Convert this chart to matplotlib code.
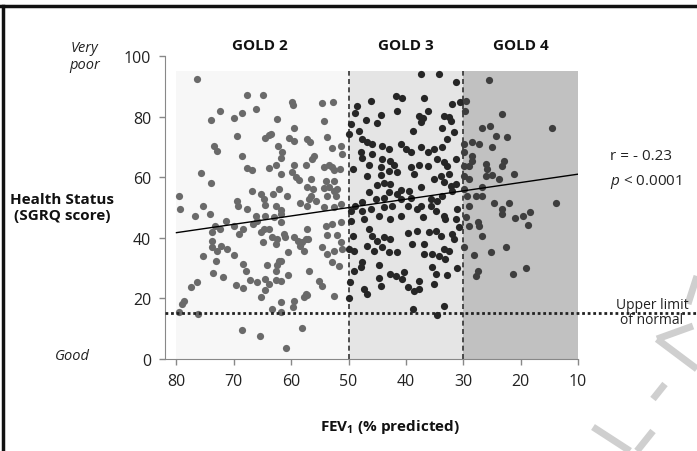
import matplotlib
matplotlib.use('Agg')
import matplotlib.pyplot as plt
from matplotlib.lines import Line2D
from matplotlib.transforms import blended_transform_factory

plt.rcParams['font.family'] = ['Open Sans', 'DejaVu Sans']
plt.rcParams['mathtext.fontset'] = 'custom'
plt.rcParams['mathtext.rm'] = 'Open Sans'
plt.rcParams['mathtext.it'] = 'Open Sans:italic'
plt.rcParams['mathtext.bf'] = 'Open Sans:bold'

# FEV1 (% predicted) and SGRQ score
gold2_x = [76.4, 67.7, 65.0, 59.8, 59.6, 72.4, 73.9, 70.0, 68.5, 66.1, 62.5, 59.5, 69.4, 64.6, 63.9,
           63.5, 73.5, 72.9, 68.5, 60.3, 59.5, 62.3, 61.6, 61.8, 57.2, 67.7, 66.8, 63.8, 62.7, 59.5,
           61.8, 59.8, 59.2, 58.6, 57.5, 75.7, 73.9, 79.6, 79.4, 75.3, 66.9, 65.2, 64.8, 64.5, 63.2,
           62.1, 60.7, 69.5, 69.2, 67.7, 62.7, 61.8, 58.4, 56.9,
           76.7, 74.1, 66.2, 64.6, 63.0, 61.7, 61.8, 71.4, 70.0, 73.2, 73.8, 72.4, 69.1, 68.4, 66.7,
           65.9, 65.3, 64.8, 63.9, 63.3, 62.4, 62.7, 61.3, 61.0, 65.0, 59.5, 58.9, 58.4, 57.8, 58.1,
           57.2, 57.5, 73.8, 73.8, 72.9, 72.3, 71.2, 70.0, 75.3, 73.1, 73.6, 71.9, 68.4, 67.8, 64.2,
           62.4, 62.1, 61.8, 62.7, 60.5, 60.5, 67.1, 65.9, 64.5, 63.9, 62.7, 61.8, 69.7, 68.4, 64.5,
           65.2, 77.4, 76.5, 78.7, 79.1, 79.6, 76.2, 63.3, 61.8, 61.8, 59.5, 59.7, 57.8, 57.2, 68.5,
           65.5, 60.9, 58.2, 56.9,
           54.7, 52.7, 54.2, 53.7, 56.8, 52.8, 51.4, 51.2, 56.0, 56.3, 54.3, 53.4, 52.8, 52.5, 51.5,
           54.0, 52.5, 56.6, 57.2, 56.2, 54.3, 53.4, 52.5, 52.0, 53.7, 52.2, 56.6, 55.7, 57.2, 54.3,
           52.5, 51.4,
           54.0, 52.8, 51.4, 53.7, 52.1, 57.1, 54.6, 53.7, 52.5, 51.4, 51.1, 52.8, 51.7, 55.2, 54.7,
           57.5, 52.5]
gold2_y = [92.4, 87.2, 87.2, 84.7, 83.8, 81.7, 78.9, 79.7, 81.3, 82.4, 79.2, 76.4, 73.5, 73.0, 73.9,
           74.2, 70.2, 68.5, 67.0, 72.9, 72.0, 70.2, 68.2, 66.5, 72.6, 63.2, 62.5, 62.9, 64.0, 64.0,
           61.0, 61.6, 60.0, 59.2, 64.0, 61.3, 58.1, 53.9, 49.5, 50.4, 55.3, 54.5, 52.8, 50.9, 54.5,
           56.1, 53.7, 52.2, 50.4, 49.5, 50.4, 49.3, 51.5, 52.8,
           47.3, 47.9, 47.3, 47.3, 46.8, 45.1, 47.9, 45.4, 44.0, 44.0, 41.8, 42.9, 41.3, 42.9, 44.6,
           45.6, 41.8, 42.9, 42.9, 40.2, 39.6, 38.0, 41.3, 40.2, 38.5, 40.2, 39.0, 37.4, 35.7, 38.5,
           42.9, 39.6, 39.0, 36.9, 35.7, 37.4, 36.3, 34.3, 33.9, 32.2, 28.3, 27.2, 31.4, 29.1, 30.9,
           30.9, 32.2, 32.4, 29.1, 35.2, 27.7, 26.1, 25.3, 26.4, 24.8, 26.1, 25.6, 24.3, 23.4, 22.8,
           20.4, 23.7, 25.5, 19.0, 18.2, 15.6, 14.9, 16.5, 18.7, 15.4, 19.3, 17.3, 20.3, 21.1, 9.7,
           7.7, 3.6, 10.2, 29.1,
           84.5, 84.9, 78.4, 73.4, 71.5, 69.5, 70.2, 67.7, 66.9, 66.0, 63.3, 64.0, 63.3, 62.5, 62.7,
           58.9, 58.6, 59.4, 56.7, 56.1, 56.3, 56.7, 55.5, 56.1, 53.7, 53.9, 53.9, 52.2, 50.6, 50.1,
           50.1, 51.2,
           44.0, 44.6, 45.1, 41.0, 41.0, 39.6, 36.9, 34.7, 35.7, 38.5, 36.3, 31.9, 30.8, 25.8, 24.2,
           21.5, 20.9]

gold3_x = [37.4, 34.2, 41.8, 40.6, 36.8, 46.1, 48.5, 41.5, 48.8, 44.4, 47.0, 45.1, 49.6, 49.9, 37.7,
           37.1, 36.2, 37.4, 38.7, 33.4, 33.7, 48.2, 47.6, 46.7, 45.9, 44.1, 43.0, 40.9, 47.9, 45.9,
           47.6, 44.1, 42.7, 40.0, 39.2, 37.4, 36.2, 35.1, 33.7, 46.4, 44.4, 42.1, 41.5, 39.2, 38.6,
           37.7, 36.2, 34.5, 33.4, 49.3, 46.7, 44.4, 43.0, 33.9, 45.0, 43.9, 42.7, 40.9, 39.5, 37.4,
           35.1, 33.4, 48.8, 47.6, 46.4, 45.3, 43.9, 43.0, 41.5, 40.9, 39.2, 37.4, 35.7, 34.5, 33.7,
           49.6, 47.6, 46.1, 44.7, 43.9, 42.4, 42.7, 40.9, 39.7, 38.0, 37.1, 35.7, 34.8, 33.4, 49.6,
           47.3, 49.3, 46.4, 45.9, 45.0, 43.9, 42.7, 39.7, 38.0, 36.0, 34.8, 33.9, 49.9, 49.1, 46.7,
           45.6, 44.1, 43.0, 41.5, 38.9, 36.8, 36.8, 35.4, 34.3, 47.6, 47.9, 49.1, 44.7, 49.7, 44.7,
           42.7, 41.8, 40.3, 40.6, 44.4, 47.3, 46.7, 39.7, 38.6, 37.7, 37.7, 35.1, 34.8, 35.4, 49.9,
           38.7, 34.5, 33.4,
           31.3, 31.9, 30.5, 32.5, 32.2, 31.6, 32.8, 31.3, 32.8, 32.5, 31.3, 32.2, 31.9, 31.1, 31.3,
           30.7, 33.1, 31.9, 31.6, 33.4, 32.5, 33.1, 31.1, 32.8]
gold3_y = [94.1, 94.1, 86.7, 86.0, 86.0, 85.2, 83.6, 81.9, 81.1, 80.5, 78.9, 77.8, 77.6, 74.3, 80.3,
           79.4, 81.9, 78.1, 75.3, 80.3, 76.4, 75.3, 72.6, 71.5, 70.9, 70.2, 69.3, 70.9, 68.2, 67.7,
           66.2, 66.0, 65.4, 69.3, 68.2, 69.9, 68.2, 69.3, 69.9, 64.0, 63.3, 64.0, 61.6, 63.3, 61.1,
           64.0, 63.8, 66.0, 64.9, 62.7, 60.3, 60.7, 62.1, 60.5, 57.4, 58.1, 57.8, 55.9, 55.6, 56.7,
           59.4, 58.3, 50.6, 51.7, 55.0, 52.8, 53.3, 55.0, 54.5, 52.8, 53.3, 50.6, 52.8, 52.2, 53.9,
           48.9, 48.9, 49.5, 47.3, 50.1, 50.6, 46.2, 47.3, 50.6, 49.5, 46.8, 50.6, 48.9, 47.3, 45.6,
           46.2, 40.7, 42.9, 40.7, 39.0, 40.2, 39.6, 41.5, 42.3, 41.8, 42.3, 40.7, 36.3, 35.7, 37.4,
           35.7, 36.9, 35.2, 35.2, 38.0, 38.0, 34.7, 34.7, 34.1, 31.9, 30.2, 29.1, 31.1, 25.3, 26.7,
           28.0, 27.5, 28.6, 26.4, 24.0, 23.1, 21.5, 23.7, 22.3, 23.1, 25.8, 24.8, 28.1, 30.2, 20.0,
           16.5, 14.5, 17.6,
           91.5, 84.2, 84.7, 79.8, 78.6, 74.8, 72.6, 66.0, 63.8, 61.1, 57.8, 57.2, 55.5, 49.5, 46.2,
           43.4, 46.2, 41.3, 39.6, 36.3, 35.7, 33.0, 30.0, 27.7]

gold4_x = [29.6, 29.7, 25.5, 23.2, 26.7, 25.3, 24.3, 22.3, 29.9, 28.4, 27.3, 25.0, 29.9, 28.4, 28.4,
           29.8, 29.0, 26.1, 25.8, 22.9, 23.2, 29.9, 29.0, 26.1, 25.0, 23.8, 21.2, 14.5, 26.7, 29.9,
           29.3, 27.8, 26.7, 24.6, 22.0, 13.9, 29.0, 29.6, 29.0, 27.5, 27.3, 26.7, 23.2, 23.2, 20.9,
           19.6, 18.4, 18.8, 29.9, 28.2, 25.2, 22.6, 27.5, 27.8, 21.4, 19.1]
gold4_y = [85.3, 81.9, 92.0, 80.9, 76.4, 77.0, 73.7, 73.2, 70.9, 71.5, 70.9, 69.9, 68.2, 67.1, 65.4,
           63.8, 63.8, 64.4, 62.7, 65.4, 63.8, 60.5, 59.4, 60.5, 60.7, 59.4, 61.1, 76.4, 56.7, 56.1,
           53.9, 53.9, 53.9, 51.5, 51.5, 51.5, 50.6, 47.0, 43.8, 45.1, 44.0, 40.7, 49.5, 47.9, 46.5,
           47.3, 48.4, 44.2, 36.9, 34.4, 35.2, 37.1, 29.1, 27.5, 28.1, 29.9]

fit_x = [80, 10]
fit_y = [41.7, 61.0]

gold_edges = [80, 50, 30, 10]
gold_labels = ['GOLD 2', 'GOLD 3', 'GOLD 4']
gold_shades = ['#f7f7f7', '#e5e5e5', '#c1c1c1']
normal_limit = 15.3

W, H = 697, 452
fig = plt.figure(figsize=(W / 100, H / 100), dpi=100)
ax = fig.add_axes([165 / W, 1 - 360 / H, (578 - 165) / W, (360 - 57) / H])

for i in range(3):
    ax.axvspan(gold_edges[i], gold_edges[i + 1], ymin=0, ymax=0.95,
               color=gold_shades[i], lw=0, zorder=0)
    ax.text((gold_edges[i] + gold_edges[i + 1]) / 2 + (0.4 if i == 0 else 0), 103.6,
            gold_labels[i], ha='center', va='center', fontsize=11,
            fontweight='bold', color='#111111', clip_on=False)

for xv in [50, 30]:
    ax.plot([xv, xv], [0, 95], color='#333333', lw=1.2, ls=(0, (3, 2)), zorder=2)

ax.scatter(gold2_x, gold2_y, s=27, color='#6a6a6a', lw=0, zorder=3)
ax.scatter(gold3_x, gold3_y, s=27, color='#262626', lw=0, zorder=3)
ax.scatter(gold4_x, gold4_y, s=27, color='#3e3e3e', lw=0, zorder=3)

ax.plot(fit_x, fit_y, color='black', lw=1.0, zorder=4)

trans = blended_transform_factory(ax.transAxes, ax.transData)
ax.plot([0, (W - 165) / (578 - 165)], [normal_limit, normal_limit], transform=trans,
        color='#222222', lw=2.0, ls=(0, (1, 1)), clip_on=False, zorder=4)

ax.set_xlim(82, 10)
ax.set_ylim(0, 100)
ax.set_xticks([80, 70, 60, 50, 40, 30, 20, 10])
ax.set_yticks([0, 20, 40, 60, 80, 100])
ax.tick_params(labelsize=11.5, colors='#888888', labelcolor='#222222', length=4, width=1, pad=6)
for side in ['top', 'right']:
    ax.spines[side].set_visible(False)
for side in ['left', 'bottom']:
    ax.spines[side].set_color('#888888')
ax.set_facecolor('none')

fig.text(85 / W, 1 - 57 / H, 'Very\npoor', ha='center', va='center', fontsize=10.5,
         style='italic', color='#222222', linespacing=1.1)
fig.text(72 / W, 1 - 357 / H, 'Good', ha='center', va='center', fontsize=10.5,
         style='italic', color='#222222')
fig.text(62 / W, 1 - 208 / H, 'Health Status\n(SGRQ score)', ha='center', va='center',
         fontsize=11, fontweight='bold', color='#111111', linespacing=1.15)
fig.text(610 / W, 1 - 157 / H, 'r = - 0.23', ha='left', va='center', fontsize=11, color='#222222')
fig.text(610 / W, 1 - 182 / H, r'$p$ < 0.0001', ha='left', va='center', fontsize=11, color='#222222')
fig.text(652 / W, 1 - 313 / H, 'Upper limit\nof normal', ha='center', va='center', fontsize=10,
         color='#222222', linespacing=1.05)
fig.text(390 / W, 1 - 427 / H, r'FEV$_{\mathbf{1}}$ (% predicted)', ha='center', va='center',
         fontsize=11, fontweight='bold', color='#111111')

# panel frame
fig.add_artist(Line2D([0, 1], [1 - 7 / H, 1 - 7 / H], color='#111111', lw=2.5))
fig.add_artist(Line2D([3 / W, 3 / W], [0, 1 - 7 / H], color='#111111', lw=2.5))

# faint watermark strokes
marks = [((593, 428), (630, 452)), ((653, 432), (637, 452)), ((665, 385), (653, 400)),
         ((657, 340), (697, 370)), ((657, 340), (693, 327)), ((697, 277), (688, 305))]
for (x0, y0), (x1, y1) in marks:
    fig.add_artist(Line2D([x0 / W, x1 / W], [1 - y0 / H, 1 - y1 / H],
                          color='#cfcfcf', lw=5, solid_capstyle='butt', zorder=0))

plt.savefig('out.png', dpi=100)
